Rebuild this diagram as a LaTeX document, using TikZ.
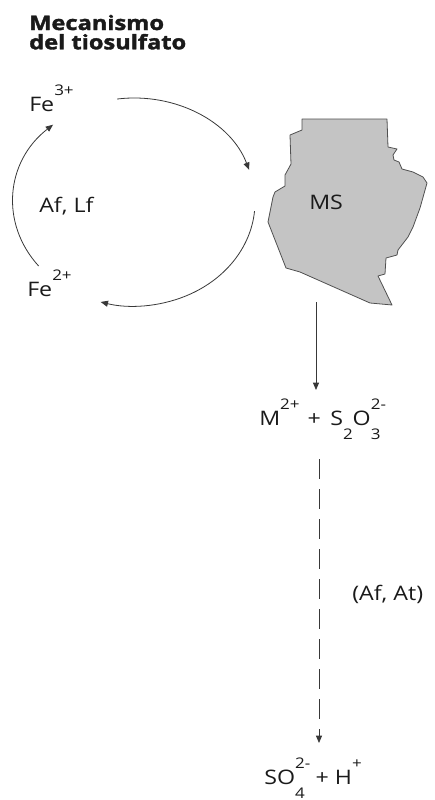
\documentclass[tikz,border=0pt]{standalone}
\usepackage{fontspec}
\setmainfont{Open Sans}[FakeStretch=1.16]
\newfontfamily\headfont{Open Sans}[FakeStretch=1.18, BoldFeatures={FakeBold=1.8}]
\usetikzlibrary{arrows.meta,calc}

% raised / lowered charge and count marks for the formulas
\newcommand\chup[1]{\raisebox{11.8pt}{\fontsize{11}{11}\selectfont #1}}
\newcommand\chdn[1]{\raisebox{-10.5pt}{\fontsize{11}{11}\selectfont #1}}
\newcommand\chboth[2]{\makebox[0pt][l]{\chdn{#2}}\chup{#1}}

\definecolor{ink}{HTML}{1A1A1A}
\definecolor{wire}{HTML}{383838}
\definecolor{rock}{HTML}{C4C4C4}
\definecolor{rockedge}{HTML}{505050}

\tikzset{
  txt/.style={anchor=base west, inner sep=0pt, text=ink,
              font=\fontsize{15}{17}\selectfont},
  heading/.style={anchor=base west, inner sep=0pt, text=ink,
              font=\headfont\bfseries\fontsize{15}{17}\selectfont},
  link/.style={draw=wire, line width=0.6pt,
               -{Triangle[length=5.5pt,width=4.5pt]}},
  dashlink/.style={link, dash pattern=on 15pt off 7.5pt},
}

\begin{document}
\begin{tikzpicture}[x=0.75pt,y=0.75pt]
  \path[use as bounding box] (0,0) rectangle (435,-800);

  % heading
  \node[heading] (title1) at (29,-30) {Mecanismo};
  \node[heading] (title2) at (29,-49.3) {del tiosulfato};

  % iron cycle
  \node[txt] (fe3) at (29,-111.7) {Fe\chup{3+}};
  \node[txt] (fe2) at (27,-296.7) {Fe\chup{2+}};
  \node[txt] (aflf) at (39,-212) {Af, Lf};

  \coordinate (cyc) at (134,-202);
  \coordinate (topA) at ($(cyc)+(98:121 and 104)$);
  \coordinate (botA) at ($(cyc)+(-5:121 and 104)$);
  \coordinate (lefA) at ($(cyc)+(218:121 and 104)$);

  \draw[link] (topA) arc[start angle=98, end angle=18,
                         x radius=90.75pt, y radius=78pt];
  \draw[link] (botA) arc[start angle=-5, end angle=-106,
                         x radius=90.75pt, y radius=78pt];
  \draw[link] (lefA) arc[start angle=218, end angle=132,
                         x radius=90.75pt, y radius=78pt];

  % metal sulfide grain
  \draw[fill=rock, draw=rockedge, line width=0.6pt, line join=round]
    (302,-119) -- (387,-119) -- (388,-147) -- (397,-149) -- (393,-155)
    -- (394,-160) -- (399,-162) -- (402,-169) -- (413,-172) -- (423,-177)
    -- (427,-183) -- (420,-208) -- (413,-227) -- (408,-237) -- (398,-250)
    -- (397,-255) -- (386,-258) -- (385,-274) -- (378,-276) -- (392,-305)
    -- (370,-303) -- (300,-272) -- (286,-268) -- (268,-222) -- (273,-197)
    -- (275,-192) -- (285,-186) -- (285,-175) -- (291,-164) -- (290,-135)
    -- (302,-130) -- cycle;
  \node[txt] (ms) at (309,-209.5) {MS};

  % dissolution products
  \node[txt] (thio) at (259,-425)
    {M\chup{2+}\hspace{6pt}+\hspace{7pt}S\chdn{2}O\chboth{2-}{3}};
  \node[txt] (afat) at (352,-600) {(Af, At)};
  \node[txt] (sulf) at (264,-784) {SO\chboth{2-}{4}\hspace{4pt}+ H\chup{+}};

  \coordinate (msout) at (316,-302);
  \coordinate (thioin) at (316,-390);
  \coordinate (thioout) at (319,-459);
  \coordinate (sulfin) at (319,-743);

  \draw[link] (msout) -- (thioin);
  \draw[dashlink] (thioout) -- (sulfin);
\end{tikzpicture}
\end{document}
